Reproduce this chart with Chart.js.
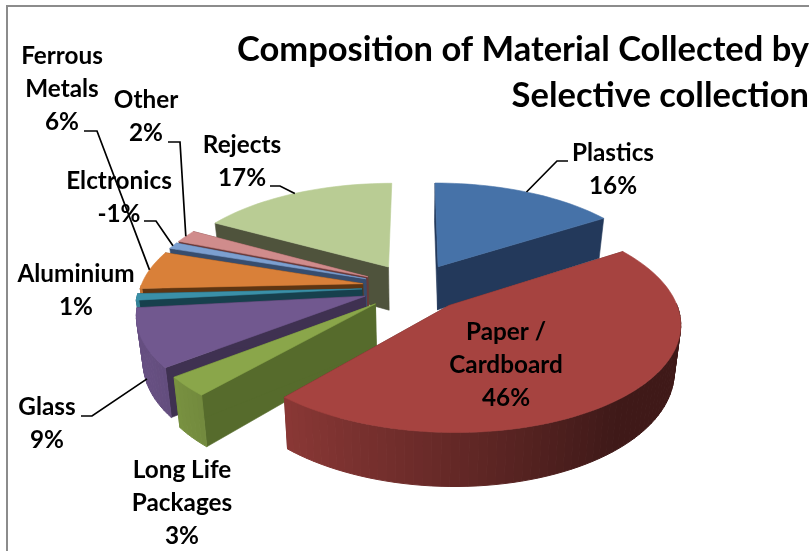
<!doctype html>
<html>
<head>
    <title>Composition of Material Collected</title>
    <script src="https://cdn.jsdelivr.net/npm/chart.js"></script>
    <style>
        body { margin: 0; background: #fff; overflow: hidden; }
        canvas { display: block; }
    </style>
</head>
<body>
<canvas id="myChart" width="809" height="551"></canvas>

<script>
    const titleLines = ['Composition of Material Collected by', 'Selective collection'];
    const categories = ['Plastics', 'Paper /\nCardboard', 'Long Life\nPackages', 'Glass', 'Aluminium',
        'Ferrous\nMetals', 'Elctronics', 'Other', 'Rejects'];
    const values = [16, 46, 3, 9, 1, 6, -1, 2, 17];

    const topColors = ['#4672a8', '#a64340', '#8aa64a', '#71588f', '#3a90a8', '#d98039', '#7c9fd0', '#d08c8c', '#b9cc94'];
    const cutColors = ['#23395b', '#5f2927', '#566b2c', '#3f3151', '#17404d', '#5e3512', '#374d6e', '#6a3a3a', '#4f533c'];

    // where each label sits: centre x and the baseline of its first line
    const labelX = [613, 506, 182, 47, 76, 62, 119, 146, 242];
    const labelY = [161, 340, 478, 415, 282, 64, 189, 108, 153];
    const lineHeight = 33;

    // leader lines: the label side ends, null where the label has no leader
    const leaderFrom = [[568, 161], null, null, [81, 416], null, [84, 131], [144, 221], [168, 142], [270, 186]];
    const leaderElbow = [[557, 161], null, null, [92, 416], null, [97, 131], [156, 221], [180, 142], [280, 186]];
    const leaderDepth = [0, 0, 0, 0.85, 0, 0, 0, 0, 0];

    // camera for the tilted pie
    const tilt = 0.4586;
    const perspective = 0.15;
    const depth = 44.5;
    const taper = 0.025;

    function shade(hex, f) {
        const n = parseInt(hex.slice(1), 16);
        const c = [n >> 16, (n >> 8) & 255, n & 255].map(v => Math.round(v * f));
        return `rgb(${c[0]},${c[1]},${c[2]})`;
    }

    function project(arc, u, v, z) {
        const w = 1 + perspective * v;
        return [
            arc.x + arc.outerRadius * u / (w * (1 + taper * z)),
            arc.y - arc.outerRadius * tilt * v / w + depth * z / w
        ];
    }

    // point on the pie plane, radius 1, pushed out along the slice's middle angle
    function slicePoint(arc, angle, r) {
        const mid = (arc.startAngle + arc.endAngle) / 2;
        const e = arc.options.offset / arc.outerRadius;
        return [r * Math.cos(angle) + e * Math.cos(mid), -(r * Math.sin(angle)) - e * Math.sin(mid)];
    }

    function fillPoly(ctx, pts, color, width) {
        ctx.beginPath();
        pts.forEach((p, i) => i ? ctx.lineTo(p[0], p[1]) : ctx.moveTo(p[0], p[1]));
        ctx.closePath();
        ctx.fillStyle = color;
        ctx.strokeStyle = color;
        ctx.lineWidth = width;
        ctx.fill();
        ctx.stroke();
    }

    function drawSlice(ctx, arc, i) {
        const steps = Math.max(2, Math.ceil((arc.endAngle - arc.startAngle) / (Math.PI / 90)));
        const rim = [];
        for (let s = 0; s <= steps; s++) {
            const a = arc.startAngle + (arc.endAngle - arc.startAngle) * s / steps;
            rim.push({a: a, p: slicePoint(arc, a, 1)});
        }
        const tip = slicePoint(arc, arc.startAngle, 0);
        const quad = (p, q) => [
            project(arc, p[0], p[1], 0), project(arc, q[0], q[1], 0),
            project(arc, q[0], q[1], 1), project(arc, p[0], p[1], 1)
        ];

        fillPoly(ctx, quad(tip, rim[0].p), cutColors[i], 0.6);
        // the last slice's closing face turns away from the viewer
        if (arc.endAngle < Math.PI * 1.45) fillPoly(ctx, quad(tip, rim[steps].p), cutColors[i], 0.6);
        // outer wall, front half only, lit from the left
        for (let s = 0; s < steps; s++) {
            const a = (rim[s].a + rim[s + 1].a) / 2;
            if (Math.sin(a) < 0) continue;
            const f = Math.max(0.38, Math.min(0.9, 0.6 - 0.35 * Math.cos(a)));
            fillPoly(ctx, quad(rim[s].p, rim[s + 1].p), shade(topColors[i], f), 1);
        }
        const top = [project(arc, tip[0], tip[1], 0)].concat(rim.map(r => project(arc, r.p[0], r.p[1], 0)));
        fillPoly(ctx, top, topColors[i], 0.6);
    }

    const tiltedPie = {
        id: 'tiltedPie',
        beforeDraw(chart) {
            const ctx = chart.ctx;
            ctx.save();
            ctx.strokeStyle = '#8c8c8c';
            ctx.lineWidth = 2;
            ctx.beginPath();
            ctx.moveTo(7, 551);
            ctx.lineTo(7, 6);
            ctx.lineTo(809, 6);
            ctx.stroke();
            ctx.restore();
        },
        beforeDatasetDraw(chart) {
            const arcs = chart.getDatasetMeta(0).data;
            const ctx = chart.ctx;
            const order = arcs.map((arc, i) => i).sort((a, b) => {
                const ma = (arcs[a].startAngle + arcs[a].endAngle) / 2;
                const mb = (arcs[b].startAngle + arcs[b].endAngle) / 2;
                return Math.sin(ma) - Math.sin(mb);
            });
            ctx.save();
            order.forEach(i => drawSlice(ctx, arcs[i], i));
            ctx.restore();
            return false;
        },
        afterDraw(chart) {
            const arcs = chart.getDatasetMeta(0).data;
            const ctx = chart.ctx;
            ctx.save();
            ctx.strokeStyle = '#000';
            ctx.lineWidth = 1.7;
            arcs.forEach((arc, i) => {
                if (!leaderFrom[i]) return;
                const mid = (arc.startAngle + arc.endAngle) / 2;
                const p = slicePoint(arc, mid, 1);
                const end = project(arc, p[0], p[1], leaderDepth[i]);
                ctx.beginPath();
                ctx.moveTo(leaderFrom[i][0], leaderFrom[i][1]);
                ctx.lineTo(leaderElbow[i][0], leaderElbow[i][1]);
                ctx.lineTo(end[0], end[1]);
                ctx.stroke();
            });
            ctx.fillStyle = '#000';
            ctx.font = 'bold 24.3px Lato';
            ctx.textAlign = 'center';
            ctx.textBaseline = 'alphabetic';
            categories.forEach((name, i) => {
                const lines = name.split('\n').concat(values[i] + '%');
                lines.forEach((line, n) => ctx.fillText(line, labelX[i], labelY[i] + n * lineHeight));
            });
            ctx.restore();
        }
    };

    new Chart(document.getElementById('myChart'), {
        type: 'pie',
        data: {
            labels: categories,
            datasets: [{
                data: values,
                backgroundColor: topColors,
                offset: 52,
                borderWidth: 0
            }]
        },
        options: {
            responsive: false,
            animation: false,
            radius: 222,
            layout: { padding: { left: 19, bottom: 103 } },
            plugins: {
                legend: { display: false },
                tooltip: { enabled: false },
                title: {
                    display: true,
                    text: titleLines,
                    align: 'end',
                    color: '#000',
                    font: { family: 'Lato', size: 34.5, weight: 'bold', lineHeight: 1.333 },
                    padding: { top: 27, bottom: 7 }
                }
            }
        },
        plugins: [tiltedPie]
    });
</script>
</body>
</html>
